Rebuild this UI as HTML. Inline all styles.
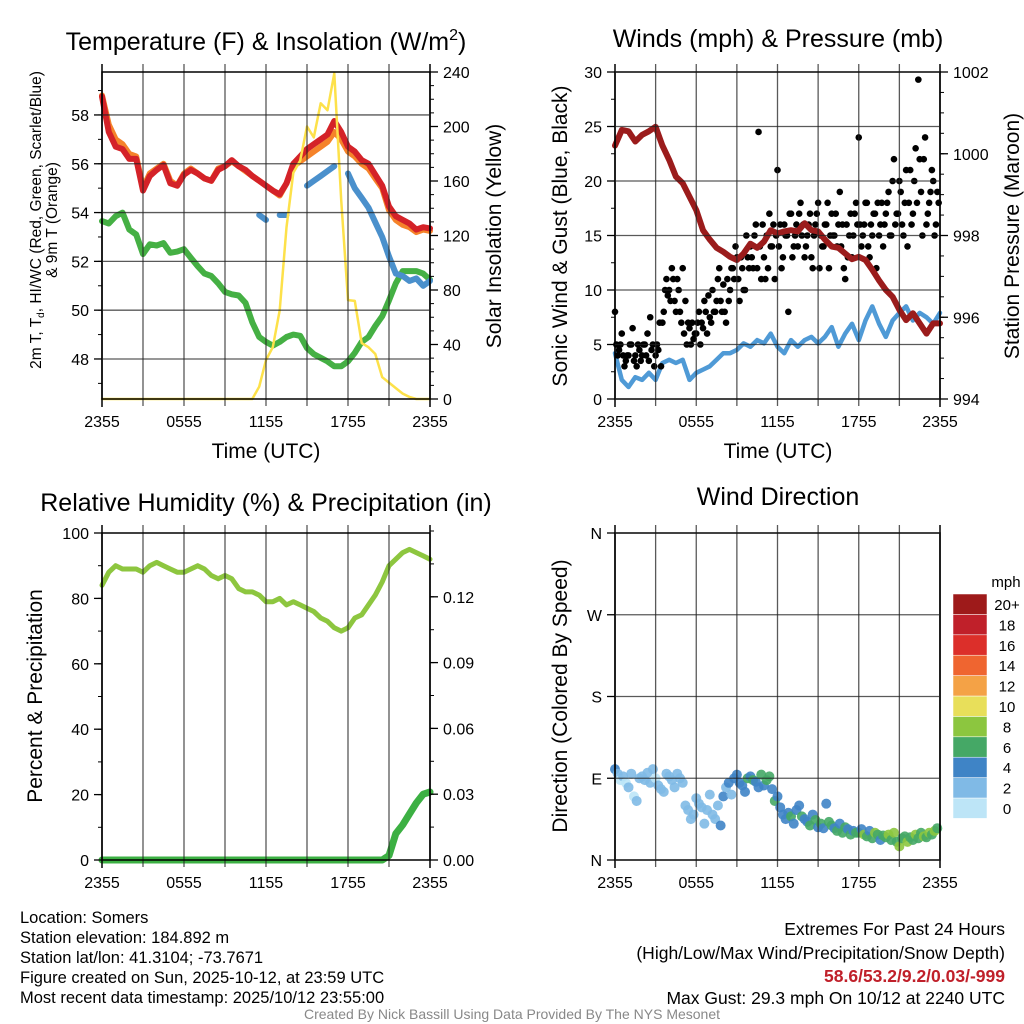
<!DOCTYPE html>
<html><head><meta charset="utf-8"><style>
html,body{margin:0;padding:0;background:#fff}
svg{display:block;font-family:"Liberation Sans",Arial,sans-serif}
</style></head><body>
<svg id="chart" width="1024" height="1024" viewBox="0 0 1024 1024" xmlns="http://www.w3.org/2000/svg">
<rect width="1024" height="1024" fill="#fff"/>
<g id="marks"></g>
<g id="axes"></g>
<g font-size="25" text-anchor="middle" fill="#000">
<text x="266" y="50">Temperature (F) &amp; Insolation (W/m<tspan font-size="16" dy="-10">2</tspan><tspan dy="10">)</tspan></text>
<text x="778" y="47">Winds (mph) &amp; Pressure (mb)</text>
<text x="266" y="511">Relative Humidity (%) &amp; Precipitation (in)</text>
<text x="778" y="505">Wind Direction</text>
</g>
<g font-size="21" text-anchor="middle" fill="#000">
<text x="266" y="458">Time (UTC)</text>
<text x="778" y="458">Time (UTC)</text>
<text transform="rotate(-90 501 236)" x="501" y="236">Solar Insolation (Yellow)</text>
<text transform="rotate(-90 567 236)" x="567" y="236">Sonic Wind &amp; Gust (Blue, Black)</text>
<text transform="rotate(-90 1019 236)" x="1019" y="236">Station Pressure (Maroon)</text>
<text transform="rotate(-90 42 696)" x="42" y="696">Percent &amp; Precipitation</text>
<text transform="rotate(-90 567 696)" x="567" y="696">Direction (Colored By Speed)</text>
</g>
<g font-size="15.5" text-anchor="middle" fill="#000">
<text transform="rotate(-90 41 220)" x="41" y="220">2m T, T<tspan font-size="10" dy="3">d</tspan><tspan dy="-3">, HI/WC (Red, Green, Scarlet/Blue)</tspan></text>
<text transform="rotate(-90 57 220)" x="57" y="220">&amp; 9m T (Orange)</text>
</g>
<g id="colorbar"></g>
<g font-size="16.5" fill="#000">
<text x="20" y="923">Location: Somers</text>
<text x="20" y="943">Station elevation: 184.892 m</text>
<text x="20" y="963">Station lat/lon: 41.3104; -73.7671</text>
<text x="20" y="983">Figure created on Sun, 2025-10-12, at 23:59 UTC</text>
<text x="20" y="1003">Most recent data timestamp: 2025/10/12 23:55:00</text>
</g>
<g font-size="17.5" fill="#000" text-anchor="end">
<text x="1005" y="935">Extremes For Past 24 Hours</text>
<text x="1005" y="959">(High/Low/Max Wind/Precipitation/Snow Depth)</text>
<text x="1005" y="982" fill="#c0202a" font-weight="bold">58.6/53.2/9.2/0.03/-999</text>
<text x="1005" y="1004">Max Gust: 29.3 mph On 10/12 at 2240 UTC</text>
</g>
<text x="512" y="1019" font-size="14" fill="#888" text-anchor="middle">Created By Nick Bassill Using Data Provided By The NYS Mesonet</text>
</svg>
<script>
// ---- data (half-hour steps from 2355 UTC, 0..24 h) ----
const timeLabels = ["2355","0555","1155","1755","2355"];
const tempRed = [58.75,57.3,56.7,56.6,56.2,56.2,54.9,55.5,55.75,55.95,55.2,55.1,55.55,55.75,55.6,55.4,55.3,55.75,55.9,56.15,55.9,55.75,55.5,55.3,55.1,54.9,54.75,55.2,56.0,56.3,56.6,56.8,57.0,57.2,57.75,57.3,56.7,56.5,56.15,56.0,55.55,55.1,54.25,53.85,53.7,53.55,53.3,53.4,53.35];
const temp9m = [58.8,57.6,57.0,56.8,56.4,56.3,55.0,55.6,55.8,56.0,55.3,55.1,55.6,55.8,55.6,55.4,55.3,55.8,55.9,56.1,55.9,55.7,55.5,55.3,55.1,54.9,54.7,55.2,55.9,56.1,56.3,56.5,56.7,56.9,57.3,57.0,56.5,56.3,56.0,55.8,55.4,55.0,54.1,53.7,53.5,53.4,53.2,53.3,53.25];
const dewpoint = [53.65,53.55,53.85,54.0,53.3,53.1,52.3,52.7,52.65,52.75,52.35,52.4,52.5,52.15,51.8,51.5,51.4,51.1,50.75,50.65,50.6,50.3,49.5,48.9,48.7,48.55,48.7,48.9,49.0,48.95,48.45,48.2,48.05,47.9,47.7,47.7,47.9,48.25,48.7,48.9,49.35,49.75,50.4,51.1,51.6,51.6,51.6,51.5,51.25];
const heatWindChill = [null,null,null,null,null,null,null,null,null,null,null,null,null,null,null,null,null,null,null,null,null,null,null,53.9,53.7,null,53.9,53.9,null,null,55.1,55.3,55.5,55.7,55.9,null,55.6,55.0,54.6,54.2,53.6,53.0,52.2,51.5,51.4,51.2,51.3,51.0,51.2];
const insolation = [0,0,0,0,0,0,0,0,0,0,0,0,0,0,0,0,0,0,0,0,0,0,0,9,28.6,38,65,126,166,175,200,192,217,212,239,146,72.6,72,41,38,33,16,12,8,4,1.5,0,0,0];
const pressure = [1000.2,1000.58,1000.55,1000.3,1000.46,1000.55,1000.66,1000.2,999.85,999.44,999.28,998.95,998.62,998.13,997.9,997.7,997.6,997.48,997.4,997.56,997.8,997.7,997.85,998.13,998.05,998.1,998.13,998.1,998.3,998.13,998.1,997.9,997.73,997.7,997.56,997.42,997.48,997.4,997.16,996.9,996.67,996.5,996.18,995.93,996.1,995.85,995.6,995.85,995.85];
const sonicWind = [4.2,1.75,1.1,2.0,1.75,2.4,1.75,3.3,3.6,3.3,3.6,1.75,2.4,2.7,3.0,3.6,4.2,4.2,4.5,5.1,4.8,5.4,5.1,6.0,4.8,4.2,5.4,4.8,5.4,5.7,5.1,5.7,6.6,4.8,6.0,6.9,5.4,7.2,8.5,6.9,5.7,7.2,7.9,8.5,7.2,7.9,7.5,6.9,7.9];
const relHumidity = [84,88,90,89,89,89,88,90,91,90,89,88,88,89,90,89,87,86,87,86,83,82,82,81,79,79,80,78,79,78,77,76,74,73,71,70,71,74,75,78,81,85,90,92,94,95,94,93,92];
const precip = [0,0,0,0,0,0,0,0,0,0,0,0,0,0,0,0,0,0,0,0,0,0,0,0,0,0,0,0,0,0,0,0,0,0,0,0,0,0,0,0,0,0,0.002,0.012,0.016,0.021,0.026,0.030,0.031];
// ---- data (0.2 h steps) ----
const gustA = [8,4,5,4,3.5,4,5,3.5,3,4.5, 4,5,6,7.5,5,4,4.5,3,8,11, 10,12,9,11,8,12,9,7,5,5.5, 6,8,7,9,6,7.5,10,8,11,9, 10.5,7,9,12,11,13,9,12,10,13, 14,12,16,24.5,11,13,15,17,14,11, 21,16,13,15,8,17,14,16,17,15, 13,15,17,12,16,18,15,14,16,12, 17,15,14,19,16,11,13,17,15,18, 24,14,16,18,13,15,17,18,16,14, 17,19,15,22,17,20,16,18,14,21, 17,23,29.3,19,22,16,18,21,15,19];
const gustB = [5,4.5,6,3,4,5,6.5,4,5,3.5, 5,4,3.5,4.5,3,5,7,7,10,9.5, 9,11,8,10,7,6,5,6.5,7,6, 7,5,6.5,8,9.5,7,8,9,12,8, 8,11,10,12,14,11,13,10,15,12, 13,15,12,14,16,11,12,14,16,15, 14,12,16,15,17,13,15,14,18,16, 14,16,13,15,17,12,14,16,18,15, 15,17,16,14,12,16,15,13,17,16, 16,15,18,14,16,17,12,15,18,16, 18,15,20,16,17,19,15,21,18,16, 20,18,22,15,24,17,19,20,16,18];
const windDir = [100,95,88,92,85,80,95,70,65,90, 92,88,96,85,100,90,82,78,75,95, 92,88,80,95,90,85,60,55,45,50, 68,62,58,40,55,72,50,45,60,38, 70,80,85,72,90,94,85,82,75,90, 92,88,86,80,94,82,88,92,78,65, 70,58,50,45,52,48,40,55,60,48, 45,42,38,50,44,36,40,35,62,42, 38,35,32,40,30,36,34,28,32,30, 30,34,28,26,32,24,30,28,22,27, 25,28,22,30,20,15,24,26,20,25, 22,28,24,30,26,25,30,28,32,35];
const windSpd = [4.2,3,1.5,2.5,1.8,2.5,3,1.2,2,2.5, 3,2.5,3.5,2.6,2.8,1.5,3,2.4,3.2,3.5, 3.6,3,2.8,3.5,3.2,2.6,2.4,2.2,3,2.5, 2.6,3,2.8,3.2,3,3.6,2.9,3.4,3.8,4.2, 4.2,3.5,4.4,3.8,5,4.5,4.8,5.2,4.6,6.2, 5.4,6.2,5,4.7,6,5.1,6.3,6.5,4.8,6.4, 5.4,4.8,4.2,5.6,4.4,6.3,4.5,5.5,4.1,6.2, 5.7,4.6,6.4,5.2,6.6,4.8,6.2,5.4,4.3,6.8, 6.1,5.2,6.9,4.8,6.5,7.2,5.4,6.3,4.6,6.8, 7.2,5.4,8.5,6.9,5.7,7.2,8.1,6.5,4.4,6.9, 7.5,8.2,6.3,8.6,7.1,8.4,6.5,7.3,8.1,6.6, 7.9,8.2,7.5,6.9,8.4,7.7,8.2,6.8,8.6,7.9];
const speedLabels = ["0","2","4","6","8","10","12","14","16","18","20+"];
const speedColors = ["#bde5f7","#80bae6","#3f84c6","#45a866","#8cc63f","#e8df5a","#f4a246","#ef6530","#dc2f2a","#c0202a","#9e1a1a"];

const NS="http://www.w3.org/2000/svg";
const FS=16;
const marks=document.getElementById('marks'), axes=document.getElementById('axes');
function mk(parent,tag,attrs){const e=document.createElementNS(NS,tag);for(const k in attrs)e.setAttribute(k,attrs[k]);parent.appendChild(e);return e;}
function panel(x0,y0,x1,y1){return {x0,y0,x1,y1,xs:t=>x0+t/24*(x1-x0)};}
function lin(d0,d1,p0,p1){return v=>p0+(v-d0)/(d1-d0)*(p1-p0);}
const P1=panel(102,72,430,399),P2=panel(615,72,940,399),P3=panel(102,533,430,860),P4=panel(615,533,940,860);
const y1L=lin(46.36,59.76,399,72), y1R=lin(0,240,399,72);
const y2L=lin(0,30,399,72), y2R=lin(994,1002,399,72);
const y3L=lin(0,100,860,533), y3R=lin(0,0.15,860,531);
const y4=lin(0,360,860,533);

function pathOf(P,arr,ys,step){let d="",pen=false;arr.forEach((v,i)=>{if(v===null){pen=false;return;}const x=P.xs(i*step),y=ys(v);d+=(pen?"L":"M")+x.toFixed(1)+","+y.toFixed(1);pen=true;});return d;}
function line(P,arr,ys,color,w,name){
  const e=mk(marks,'path',{d:pathOf(P,arr,ys,0.5),fill:'none',stroke:color,'stroke-width':w,'stroke-linejoin':'round','stroke-linecap':'round'});
  
  
}
function frame(P,name){
  for(let h=3;h<24;h+=3){const x=P.xs(h);
    const g=mk(axes,'line',{x1:x,x2:x,y1:P.y0-8,y2:P.y1+7,stroke:'#222','stroke-width':1.3,'stroke-opacity':0.75});
    
    }
  [0,24].forEach(h=>{const x=P.xs(h);
    const g=mk(axes,'line',{x1:x,x2:x,y1:P.y0-8,y2:P.y1+8,stroke:'#000','stroke-width':1.5});
    
    });
  const r=mk(axes,'rect',{x:P.x0,y:P.y0,width:P.x1-P.x0,height:P.y1-P.y0,fill:'none',stroke:'#000','stroke-width':1.5});
  
  
  timeLabels.forEach((lb,i)=>{const x=P.xs(i*6);
    const t=mk(axes,'text',{x:x,y:P.y1+28,'font-size':FS,'text-anchor':'middle'});t.textContent=lb;
    
    });
}
function yaxis(P,side,ys,majors,minors,fmt,grid){
  const x=side==='L'?P.x0:P.x1, dir=side==='L'?-1:1;
  minors.forEach(v=>{const y=ys(v);
    const e=mk(axes,'line',{x1:x,x2:x+dir*4,y1:y,y2:y,stroke:'#000','stroke-width':1});
    
    });
  majors.forEach(v=>{const y=ys(v);
    if(grid){const g=mk(axes,'line',{x1:P.x0,x2:P.x1,y1:y,y2:y,stroke:'#222','stroke-width':1.3,'stroke-opacity':0.75});
      
      }
    const e=mk(axes,'line',{x1:x,x2:x+dir*8,y1:y,y2:y,stroke:'#000','stroke-width':1.3});
    
    
    const t=mk(axes,'text',{x:x+dir*13,y:y+6,'font-size':FS,'text-anchor':side==='L'?'end':'start'});t.textContent=fmt(v);
    
    });
}
const range=(a,b,s)=>{const r=[];for(let v=a;v<=b+1e-9;v+=s)r.push(+v.toFixed(4));return r;};

// Panel 1
line(P1,temp9m,y1L,'#f5832a',6,'9m-temperature-line');
line(P1,tempRed,y1L,'#d42228',6,'2m-temperature-line');
line(P1,dewpoint,y1L,'#45b044',6,'dewpoint-line');
line(P1,heatWindChill,y1L,'#4a90cc',6,'heat-index-windchill-line');
line(P1,insolation,y1R,'#fde14a',2.5,'solar-insolation-line');
// Panel 2
line(P2,sonicWind,y2L,'#4f9ad6',4.5,'sonic-wind-line');
[gustA,gustB].forEach((arr,k)=>arr.forEach((v,i)=>{
  const c=mk(marks,'circle',{cx:P2.xs(i*0.2+k*0.1),cy:y2L(v),r:3.3,fill:'#000'});
  
  
}));
line(P2,pressure,y2R,'#9b1c1c',6,'station-pressure-line');
// Panel 3
line(P3,relHumidity,y3L,'#8dc63f',5,'relative-humidity-line');
line(P3,precip,y3R,'#3cb043',7,'precipitation-line');
// Panel 4
function spdColor(v){return speedColors[Math.min(10,Math.floor(v/2))];}
windDir.forEach((v,i)=>{
  const c=mk(marks,'circle',{cx:P4.xs(i*0.2),cy:y4(v),r:5,fill:spdColor(windSpd[i]),'fill-opacity':0.9});
  
  
});

frame(P1,'temperature-plot-area');frame(P2,'winds-plot-area');frame(P3,'humidity-plot-area');frame(P4,'direction-plot-area');
yaxis(P1,'L',y1L,range(48,58,2),range(47,59,1),v=>v,true);
yaxis(P1,'R',y1R,range(0,240,40),range(0,240,10),v=>v,false);
yaxis(P2,'L',y2L,range(0,30,5),range(0,30,2.5),v=>v,true);
yaxis(P2,'R',y2R,range(994,1002,2),range(994,1002,0.5),v=>v,false);
yaxis(P3,'L',y3L,range(0,100,20),range(0,100,10),v=>v,false);
yaxis(P3,'R',y3R,range(0,0.12,0.03),range(0,0.15,0.015),v=>v.toFixed(2),false);
const dirLabels=["N","E","S","W","N"];
yaxis(P4,'L',y4,range(0,360,90),[],v=>dirLabels[v/90],true);

// colorbar
const cb=document.getElementById('colorbar');
const cbt=mk(cb,'text',{x:1006,y:587,'font-size':15,'text-anchor':'middle'});cbt.textContent='mph';


speedColors.forEach((c,i)=>{const k=10-i,y=594+k*20.4;
  const r=mk(cb,'rect',{x:953,y:y,width:34,height:20.4,fill:c,stroke:'#fff','stroke-width':0.5});
  
  
  const t=mk(cb,'text',{x:1007,y:y+16,'font-size':15,'text-anchor':'middle'});t.textContent=speedLabels[i];
  
  
});
</script>
</body></html>
